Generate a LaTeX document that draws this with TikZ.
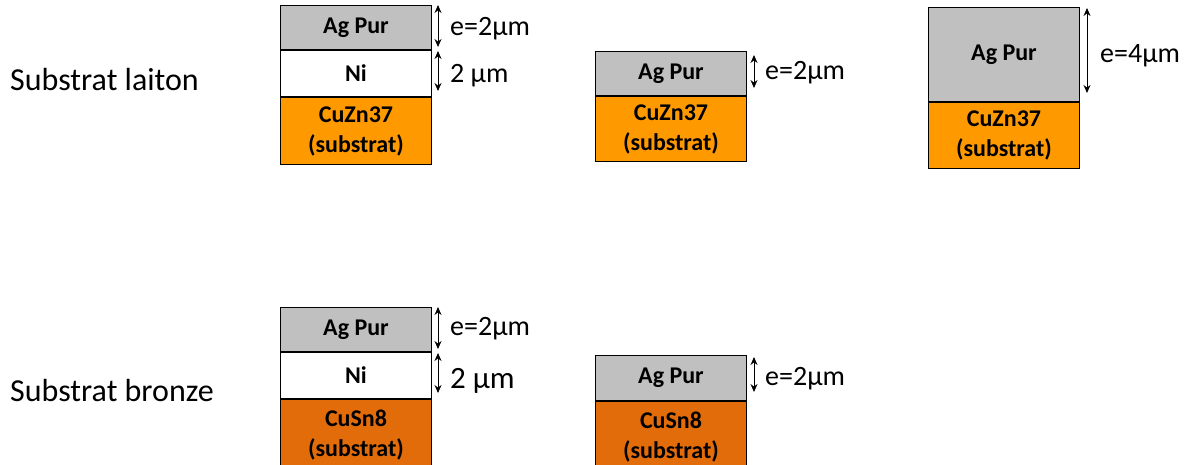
\documentclass[tikz,border=0pt]{standalone}
\usepackage{fontspec}
\setmainfont{Carlito}
\usetikzlibrary{arrows.meta}

\definecolor{argent}{RGB}{192,192,192}
\definecolor{laiton}{RGB}{255,153,0}
\definecolor{bronze}{RGB}{227,108,10}

\tikzset{
  couche/.style={draw, line width=1pt, minimum width=151pt, inner sep=0pt,
    anchor=north west, align=center, font=\bfseries\fontsize{24}{30}\selectfont},
  cote/.style={{Stealth[length=8pt,width=7pt]}-{Stealth[length=8pt,width=7pt]}, line width=1pt},
  epaisseur/.style={anchor=west, inner sep=0pt, font=\fontsize{28}{32}\selectfont},
  titre/.style={anchor=west, inner sep=0pt, font=\fontsize{32}{36}\selectfont}
}

\begin{document}
\begin{tikzpicture}[x=1pt, y=-1pt]
\useasboundingbox (0,0) rectangle (1187,465);
\clip (0,0) rectangle (1187,465);

% substrat laiton
\node[titre] (laiton) at (10,80) {Substrat laiton};

% 1) Ag + Ni sur CuZn37
\node[couche, fill=argent, minimum height=44pt] (ag1) at (280,5) {Ag Pur};
\node[couche, fill=white, minimum height=46pt] (ni1) at (ag1.south west) {Ni};
\node[couche, fill=laiton, minimum height=67pt] (cu1) at (ni1.south west) {CuZn37\\(substrat)};
\coordinate (a1h) at ([xshift=6pt]ag1.north east);
\coordinate (a1b) at ([xshift=6pt,yshift=3pt]ag1.south east);
\coordinate (n1h) at ([xshift=6pt,yshift=-1pt]ni1.north east);
\coordinate (n1b) at ([xshift=6pt,yshift=6pt]ni1.south east);
\draw[cote] (a1h) -- (a1b);
\draw[cote] (n1h) -- (n1b);
\node[epaisseur] (e1) at (450,29) {e=2µm};
\node[epaisseur] (e1n) at (450,76) {2 µm};

% 2) Ag sur CuZn37
\node[couche, fill=argent, minimum height=44pt] (ag2) at (595,51) {Ag Pur};
\node[couche, fill=laiton, minimum height=65pt] (cu2) at (ag2.south west) {CuZn37\\(substrat)};
\coordinate (a2h) at ([xshift=7pt,yshift=-4pt]ag2.north east);
\coordinate (a2b) at ([xshift=7pt,yshift=8pt]ag2.south east);
\draw[cote] (a2h) -- (a2b);
\node[epaisseur] (e2) at (765,73) {e=2µm};

% 3) Ag epais sur CuZn37
\node[couche, fill=argent, minimum height=94pt] (ag3) at (928,7) {Ag Pur};
\node[couche, fill=laiton, minimum height=66pt] (cu3) at (ag3.south west) {CuZn37\\(substrat)};
\coordinate (a3h) at ([xshift=7pt,yshift=-1pt]ag3.north east);
\coordinate (a3b) at ([xshift=7pt,yshift=9pt]ag3.south east);
\draw[cote] (a3h) -- (a3b);
\node[epaisseur] (e3) at (1100,56) {e=4µm};

% substrat bronze
\node[titre] (bronze) at (10,391) {Substrat bronze};

% 4) Ag + Ni sur CuSn8
\node[couche, fill=argent, minimum height=44pt] (ag4) at (280,307) {Ag Pur};
\node[couche, fill=white, minimum height=46pt] (ni4) at (ag4.south west) {Ni};
\node[couche, fill=bronze, minimum height=72pt] (cu4) at (ni4.south west) {CuSn8\\(substrat)};
\coordinate (a4h) at ([xshift=6pt]ag4.north east);
\coordinate (a4b) at ([xshift=6pt,yshift=3pt]ag4.south east);
\coordinate (n4h) at ([xshift=6pt,yshift=-1pt]ni4.north east);
\coordinate (n4b) at ([xshift=6pt,yshift=6pt]ni4.south east);
\draw[cote] (a4h) -- (a4b);
\draw[cote] (n4h) -- (n4b);
\node[epaisseur] (e4) at (450,329) {e=2µm};
\node[epaisseur, font=\fontsize{31}{34}\selectfont] (e4n) at (450,381) {2 µm};

% 5) Ag sur CuSn8
\node[couche, fill=argent, minimum height=45pt] (ag5) at (595,355) {Ag Pur};
\node[couche, fill=bronze, minimum height=72pt] (cu5) at (ag5.south west) {CuSn8\\(substrat)};
\coordinate (a5h) at ([xshift=7pt,yshift=-2pt]ag5.north east);
\coordinate (a5b) at ([xshift=7pt,yshift=9pt]ag5.south east);
\draw[cote] (a5h) -- (a5b);
\node[epaisseur] (e5) at (765,379) {e=2µm};
\end{tikzpicture}
\end{document}
